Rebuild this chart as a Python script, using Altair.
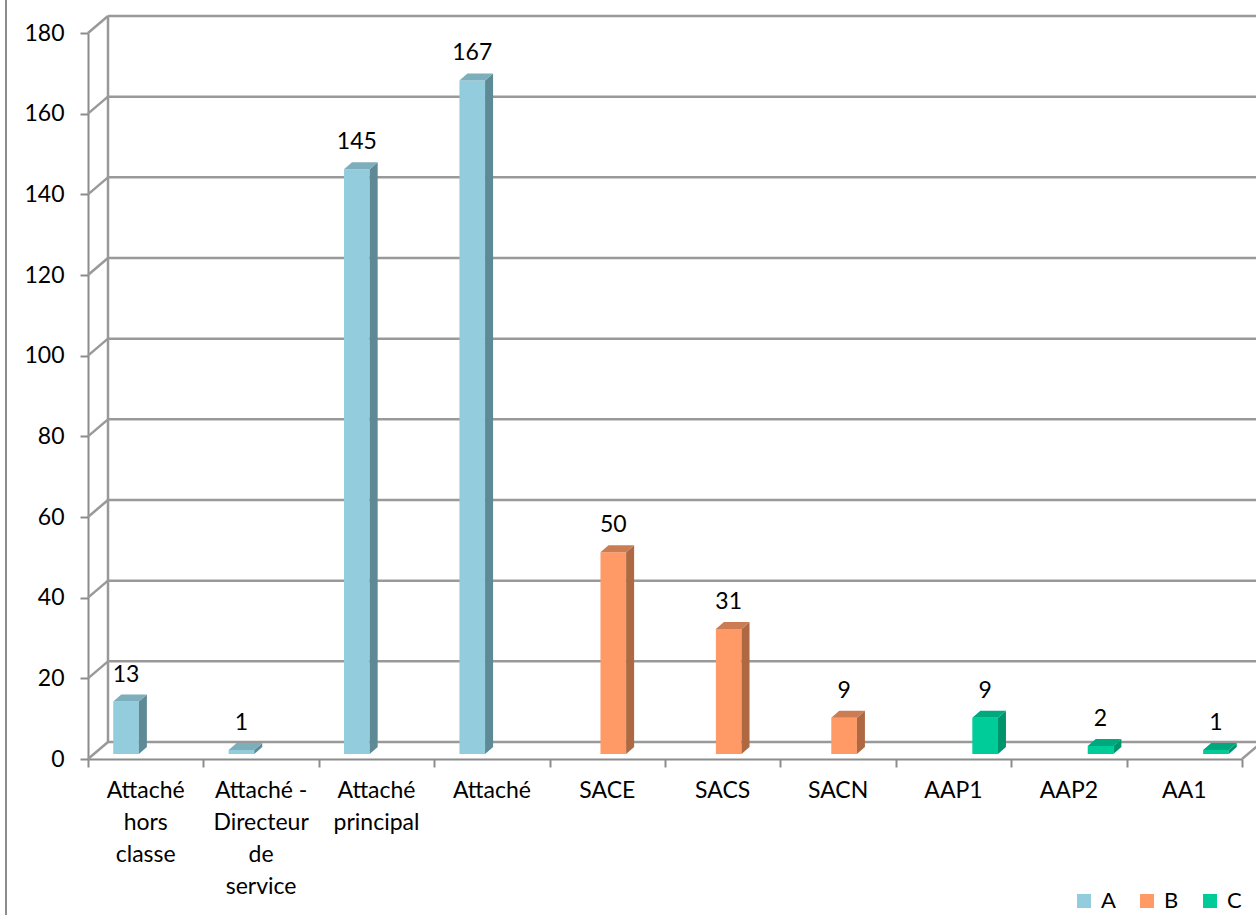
import altair as alt
import pandas as pd

# ---------------- data ----------------
categories = ["Attaché\nhors\nclasse", "Attaché -\nDirecteur\nde\nservice",
              "Attaché\nprincipal", "Attaché", "SACE", "SACS", "SACN",
              "AAP1", "AAP2", "AA1"]
values = [13, 1, 145, 167, 50, 31, 9, 9, 2, 1]
groups = ["A", "A", "A", "A", "B", "B", "B", "C", "C", "C"]
y_ticks = [0, 20, 40, 60, 80, 100, 120, 140, 160, 180]
group_names = ["A", "B", "C"]
front_colors = ["#93CDDD", "#FF9966", "#00CC99"]
top_colors = ["#7DAEBB", "#CB7C52", "#00A87D"]
side_colors = ["#5E8A95", "#AE6942", "#00946C"]

# ---------------- layout (3D look) ----------------
W, H = 1154, 726
N = len(categories)
YMAX = 180
PX_X = W / N
PX_Y = H / YMAX
DX_BACK = 20 / PX_X
DY_BACK = 17 / PX_Y
BAR_W = 1 / 4.5
CL_LEFT = 0.5 - 1.5 * BAR_W
SHIFT = 6 / PX_X
BASE = 5 / PX_Y
DXD = 8 / PX_X
DYD = 7 / PX_Y
GRID = "#999999"
AXC = "#8C8C8C"
FONT = "Lato"

xs = alt.Scale(domain=[0, N], nice=False, zero=False)
ys = alt.Scale(domain=[0, YMAX], nice=False, zero=False)

bars, side, top = [], [], []
for i, (v, g) in enumerate(zip(values, groups)):
    gi = group_names.index(g)
    left = i + CL_LEFT + gi * BAR_W + SHIFT
    right = left + BAR_W
    t = v + BASE
    bars.append(dict(id=i, group=g, left=left, right=right, base=BASE, top=t,
                     mid=(left + right) / 2, label=str(v)))
    side.append(dict(id=i, x=right, y=t, y2=BASE, c=side_colors[gi]))
    side.append(dict(id=i, x=right + DXD, y=t + DYD, y2=BASE + DYD, c=side_colors[gi]))
    top.append(dict(id=i, y=t, x=left, x2=right, c=top_colors[gi]))
    top.append(dict(id=i, y=t + DYD, x=left + DXD, x2=right + DXD, c=top_colors[gi]))
bars = pd.DataFrame(bars)
side = pd.DataFrame(side)
top = pd.DataFrame(top)

grid = pd.DataFrame(dict(x=[DX_BACK] * len(y_ticks), x2=[N + DX_BACK + 1] * len(y_ticks),
                         y=[t + DY_BACK for t in y_ticks]))
diag = pd.DataFrame(dict(x=[0] * len(y_ticks) + [N], x2=[DX_BACK] * len(y_ticks) + [N + DX_BACK],
                         y=y_ticks + [0], y2=[t + DY_BACK for t in y_ticks] + [DY_BACK]))
backv = pd.DataFrame(dict(x=[DX_BACK], y=[DY_BACK], y2=[YMAX + DY_BACK]))
labels = pd.DataFrame(dict(x=[i + 0.5 for i in range(N)], y=[0] * N, name=categories))

yaxis = alt.Axis(values=y_ticks, title=None, grid=False, tickSize=8, tickWidth=2,
                 tickColor=AXC, domainColor=AXC, domainWidth=2, labelPadding=16,
                 labelFont=FONT, labelFontSize=23, labelColor="#000000")
xaxis = alt.Axis(values=list(range(N + 1)), title=None, grid=False, labels=False,
                 tickSize=8, tickWidth=2, tickColor=AXC, domainColor=AXC, domainWidth=2)

border = alt.Chart(pd.DataFrame(dict(a=[0]))).mark_rule(color="#8C8C8C", strokeWidth=2).encode(
    x=alt.value(-82), y=alt.value(-40), y2=alt.value(H + 200))

gridl = alt.Chart(grid).mark_rule(color=GRID, strokeWidth=2.5).encode(
    x=alt.X("x:Q", scale=xs, axis=xaxis), x2="x2:Q",
    y=alt.Y("y:Q", scale=ys, axis=yaxis))
diagl = alt.Chart(diag).mark_rule(color=GRID, strokeWidth=2.5).encode(
    x=alt.X("x:Q", scale=xs), x2="x2:Q", y=alt.Y("y:Q", scale=ys), y2="y2:Q")
backl = alt.Chart(backv).mark_rule(color=GRID, strokeWidth=2.5).encode(
    x=alt.X("x:Q", scale=xs), y=alt.Y("y:Q", scale=ys), y2="y2:Q")

front = alt.Chart(bars).mark_rect().encode(
    x=alt.X("left:Q", scale=xs), x2="right:Q",
    y=alt.Y("base:Q", scale=ys), y2="top:Q",
    color=alt.Color("group:N", scale=alt.Scale(domain=group_names, range=front_colors),
                    legend=alt.Legend(title=None, orient="none", legendX=985, legendY=857,
                                      direction="horizontal", symbolType="square",
                                      symbolSize=196, symbolStrokeWidth=0,
                                      labelFont=FONT, labelFontSize=22, labelColor="#000000",
                                      labelOffset=6, columnPadding=20, padding=0)))
sidel = alt.Chart(side).mark_area(orient="vertical").encode(
    x=alt.X("x:Q", scale=xs), y=alt.Y("y:Q", scale=ys), y2="y2:Q",
    detail="id:N", color=alt.Color("c:N", scale=None))
topl = alt.Chart(top).mark_area(orient="horizontal").encode(
    y=alt.Y("y:Q", scale=ys), x=alt.X("x:Q", scale=xs), x2="x2:Q",
    detail="id:N", color=alt.Color("c:N", scale=None))

vals = alt.Chart(bars).mark_text(font=FONT, fontSize=23, color="#000000",
                                 baseline="alphabetic", align="center", dy=-20).encode(
    x=alt.X("mid:Q", scale=xs), y=alt.Y("top:Q", scale=ys), text="label:N")

xlab = alt.Chart(labels).mark_text(font=FONT, fontSize=23, color="#000000",
                                   baseline="alphabetic", align="center", dy=39,
                                   lineBreak="\n", lineHeight=32).encode(
    x=alt.X("x:Q", scale=xs), y=alt.Y("y:Q", scale=ys), text="name:N")

chart = alt.layer(border, gridl, diagl, backl, front, sidel, topl, vals, xlab).properties(
    width=W, height=H,
    autosize=alt.AutoSizeParams(type="none"),
    padding={"left": 88, "top": 33, "right": 14, "bottom": 156},
).resolve_scale(color="independent").configure_view(strokeWidth=0)

chart.save("out.html", embed_options={"renderer": "svg", "actions": False})
